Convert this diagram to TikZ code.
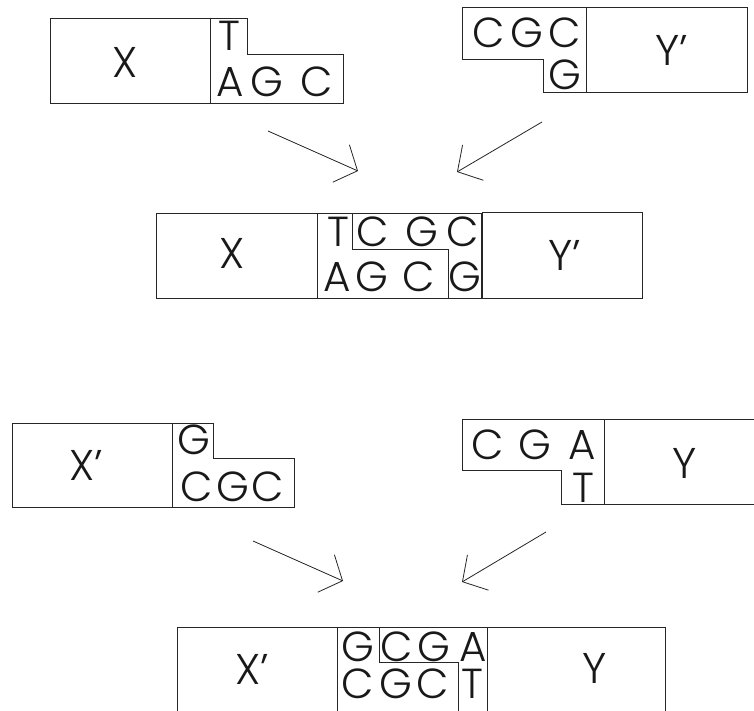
\documentclass[tikz,border=0pt]{standalone}
\usepackage{fontspec}
\newfontfamily\dna{Poppins Light}
\usetikzlibrary{arrows.meta}
\tikzset{
  outline/.style={draw=black!85, line width=0.8pt, line join=miter},
  base/.style={inner sep=0pt, font=\dna\fontsize{42}{42}\selectfont, text=black!90},
  tag/.style={inner sep=0pt, font=\dna\fontsize{43}{43}\selectfont, text=black!90},
  ligate/.style={draw=black!85, line width=0.8pt, -{Straight Barb[length=18pt,width=41pt]}}
}
\begin{document}
\begin{tikzpicture}[x=1pt,y=-1pt]
\clip (0,0) rectangle (754,711);
\fill[white] (0,0) rectangle (754,711);

% ---- fragment X with overhang T / AGC
\draw[outline] (50,18) rectangle (210,103);
\draw[outline] (210,18) -- (247,18) -- (247,54) -- (343,54) -- (343,103) -- (210,103);
\node[tag]  (x1) at (125,62) {X};
\node[base] (a1t) at (229,36) {T};
\node[base] (a1a) at (230,82) {A};
\node[base] (a1g) at (267,82) {G};
\node[base] (a1c) at (317,82) {C};

% ---- fragment Y' with overhang CGC / G
\draw[outline] (586,7) -- (462,7) -- (462,59) -- (543,59) -- (543,92) -- (586,92);
\draw[outline] (586,7) rectangle (747,92);
\node[tag]  (y1) at (672,50) {Y’};
\node[base] (b1c) at (489,33) {C};
\node[base] (b1g) at (527,33) {G};
\node[base] (b1c2) at (565,33) {C};
\node[base] (b1g2) at (565,75) {G};

% ---- ligated product X - Y'
\draw[outline] (156,213) rectangle (317,298);
\draw[outline] (317,213) -- (352,213) -- (352,249) -- (448,249) -- (448,298) -- (317,298);
\draw[outline] (352,213) -- (481,213) -- (481,298) -- (448,298);
\draw[outline] (482.5,212) rectangle (642,298);
\node[tag]  (x2) at (232,253) {X};
\node[tag]  (y2) at (565,255) {Y’};
\node[base] (c1) at (338,232) {T};
\node[base] (c2) at (373,232) {C};
\node[base] (c3) at (422,232) {G};
\node[base] (c4) at (463,232) {C};
\node[base] (c5) at (337,277) {A};
\node[base] (c6) at (372,277) {G};
\node[base] (c7) at (419,277) {C};
\node[base] (c8) at (465,277) {G};

% ---- fragment X' with overhang G / CGC
\draw[outline] (12,423) rectangle (172,507);
\draw[outline] (172,423) -- (213,423) -- (213,458) -- (294,458) -- (294,507) -- (172,507);
\node[tag]  (x3) at (86,465) {X’};
\node[base] (d1) at (194,440) {G};
\node[base] (d2) at (197,487) {C};
\node[base] (d3) at (233,487) {G};
\node[base] (d4) at (268,487) {C};

% ---- fragment Y with overhang CGA / T
\draw[outline] (604,419) -- (462,419) -- (462,470) -- (561,470) -- (561,504) -- (604,504);
\draw[outline] (760,419) -- (604,419) -- (604,504) -- (760,504);
\node[tag]  (y3) at (685,463) {Y};
\node[base] (e1) at (488,445) {C};
\node[base] (e2) at (535,445) {G};
\node[base] (e3) at (582,445) {A};
\node[base] (e4) at (583,488) {T};

% ---- ligated product X' - Y
\draw[outline] (177,720) -- (177,627) -- (337,627) -- (337,720);
\draw[outline] (337,627) -- (379,627) -- (379,662) -- (458,662) -- (458,720);
\draw[outline] (379,627) -- (487,627) -- (487,720);
\draw[outline] (487,627) -- (665,627) -- (665,720);
\node[tag]  (x4) at (252,669) {X’};
\node[tag]  (y4) at (595,668) {Y};
\node[base] (f1) at (358,647) {G};
\node[base] (f2) at (397,647) {C};
\node[base] (f3) at (434,647) {G};
\node[base] (f4) at (473,647) {A};
\node[base] (f5) at (358,684) {C};
\node[base] (f6) at (396,684) {G};
\node[base] (f7) at (433,684) {C};
\node[base] (f8) at (472,684) {T};

% ---- joining arrows
\coordinate (p1s) at (268,131); \coordinate (p1e) at (358,171);
\coordinate (p2s) at (542,122); \coordinate (p2e) at (457,172);
\coordinate (p3s) at (253,541); \coordinate (p3e) at (343,581);
\coordinate (p4s) at (546,532); \coordinate (p4e) at (462,582);
\draw[ligate] (p1s) -- (p1e);
\draw[ligate] (p2s) -- (p2e);
\draw[ligate] (p3s) -- (p3e);
\draw[ligate] (p4s) -- (p4e);
\end{tikzpicture}
\end{document}
